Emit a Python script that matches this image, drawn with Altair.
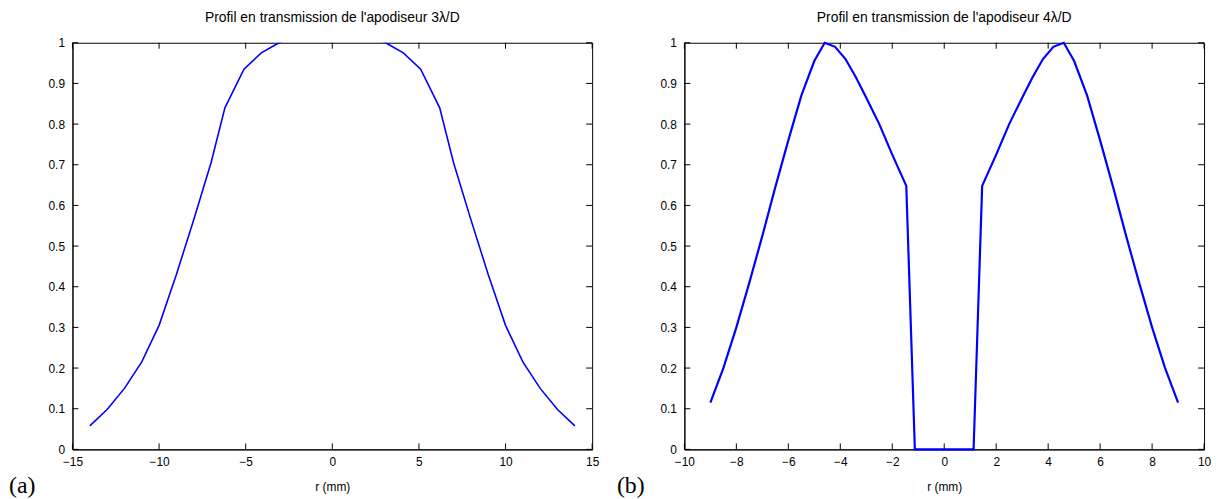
import altair as alt
import pandas as pd

# ---------------- data ----------------
# Panel (a): apodiser 3 lambda/D
r_a = [-14, -13, -12, -11, -10, -9, -8, -7, -6.2, -5.1, -4.1, -3.2, -2.2, -1.1, 0,
       1.1, 2.2, 3.2, 4.1, 5.1, 6.2, 7, 8, 9, 10, 11, 12, 13, 14]
v_a = [0.058, 0.098, 0.150, 0.215, 0.305, 0.430, 0.565, 0.705, 0.840, 0.935, 0.975, 0.997, 1.02, 1.035, 1.04,
       1.035, 1.02, 0.997, 0.975, 0.935, 0.840, 0.705, 0.565, 0.430, 0.305, 0.215, 0.150, 0.098, 0.058]

# Panel (b): apodiser 4 lambda/D
r_b = [-9, -8.5, -8, -7.5, -7, -6.5, -6, -5.5, -5, -4.6, -4.2, -3.8, -3.4, -3, -2.5, -2, -1.46, -1.13,
       1.13, 1.46, 2, 2.5, 3, 3.4, 3.8, 4.2, 4.6, 5, 5.5, 6, 6.5, 7, 7.5, 8, 8.5, 9]
v_b = [0.115, 0.20, 0.30, 0.41, 0.525, 0.645, 0.76, 0.87, 0.955, 1.0, 0.99, 0.96, 0.915, 0.865, 0.80, 0.725, 0.648, 0.0,
       0.0, 0.648, 0.725, 0.80, 0.865, 0.915, 0.96, 0.99, 1.0, 0.955, 0.87, 0.76, 0.645, 0.525, 0.41, 0.30, 0.20, 0.115]

xticks_a = [-15, -10, -5, 0, 5, 10, 15]
xticks_b = [-10, -8, -6, -4, -2, 0, 2, 4, 6, 8, 10]
yticks = [0, 0.1, 0.2, 0.3, 0.4, 0.5, 0.6, 0.7, 0.8, 0.9, 1]

title_a = "Profil en transmission de l'apodiseur 3\u03bb/D"
title_b = "Profil en transmission de l'apodiseur 4\u03bb/D"
xlabel = "r (mm)"

W, H = 524, 410
TICK = 6
BLUE = "#0000FF"


def panel(r, v, xticks, title, tag, tag_dx, line_w, clip):
    x0, x1 = xticks[0], xticks[-1]
    tx = TICK * (x1 - x0) / W      # tick length in x data units
    ty = TICK * 1.0 / H            # tick length in y data units
    sx = alt.Scale(domain=[x0, x1], nice=False, zero=False)
    sy = alt.Scale(domain=[0, 1], nice=False, zero=False)
    X = alt.X("r:Q", scale=sx,
              axis=alt.Axis(values=xticks, format="d", title=xlabel, titlePadding=14,
                            labelPadding=7))
    Y = alt.Y("v:Q", scale=sy,
              axis=alt.Axis(values=yticks, format="~g", title=None, labelPadding=8))

    df = pd.DataFrame({"r": r, "v": v})
    dfx = pd.DataFrame({"r": xticks})
    dfy = pd.DataFrame({"v": yticks})
    dft = pd.DataFrame({"lab": [tag]})

    line = alt.Chart(df).mark_line(color=BLUE, strokeWidth=line_w, clip=clip).encode(x=X, y=Y)
    # inward-pointing ticks on all four sides (MATLAB box style)
    tb = alt.Chart(dfx).mark_rule(color="black", strokeWidth=1).encode(
        x=X, y=alt.datum(0), y2=alt.datum(ty))
    tt = alt.Chart(dfx).mark_rule(color="black", strokeWidth=1).encode(
        x=X, y=alt.datum(1), y2=alt.datum(1 - ty))
    tl = alt.Chart(dfy).mark_rule(color="black", strokeWidth=1).encode(
        y=Y, x=alt.datum(x0), x2=alt.datum(x0 + tx))
    tr = alt.Chart(dfy).mark_rule(color="black", strokeWidth=1).encode(
        y=Y, x=alt.datum(x1), x2=alt.datum(x1 - tx))
    lab = alt.Chart(dft).mark_text(font="Liberation Serif", fontSize=24, align="left",
                                   baseline="alphabetic", color="black").encode(
        x=alt.value(tag_dx), y=alt.value(H + 44), text="lab:N")

    return alt.layer(line, tb, tt, tl, tr, lab).properties(
        width=W, height=H,
        title=alt.TitleParams(title, font="Liberation Sans", fontSize=14, fontWeight="normal",
                              color="black", anchor="middle", offset=12))


pa = panel(r_a, v_a, xticks_a, title_a, "(a)", -64, 1.6, True)
pb = panel(r_b, v_b, xticks_b, title_b, "(b)", -68, 2.2, False)

chart = alt.hconcat(pa, pb, spacing=93, bounds="flush").properties(
    padding={"left": 0, "top": 0, "right": 0, "bottom": 0}
).configure_view(stroke="black", strokeWidth=1).configure_axis(
    grid=False, domainColor="black", domainWidth=1, ticks=False, tickSize=0,
    labelFont="Liberation Sans", labelFontSize=12, labelColor="black", labelFlush=False,
    titleFont="Liberation Sans", titleFontSize=12, titleFontWeight="normal", titleColor="black"
)

chart.save("out.html", embed_options={"renderer": "svg", "actions": False})
